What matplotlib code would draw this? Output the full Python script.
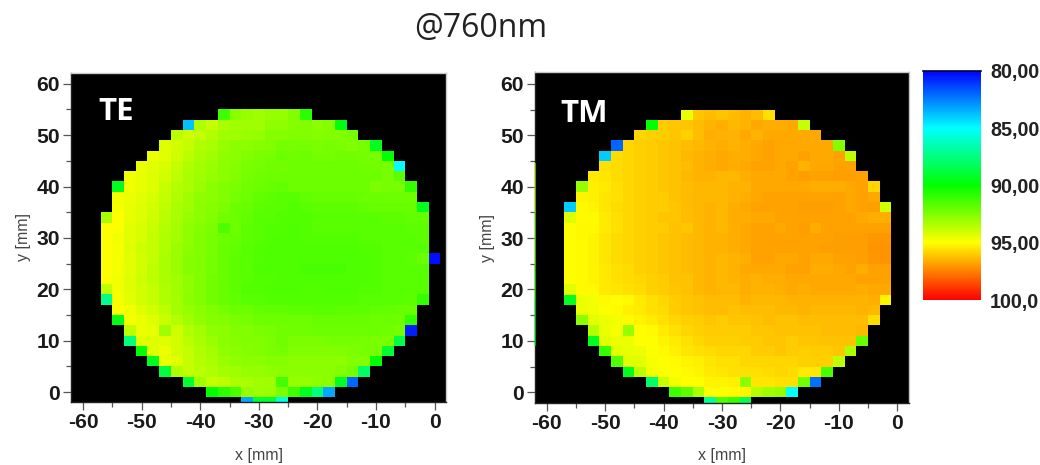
import numpy as np
import matplotlib
matplotlib.use("Agg")
import matplotlib.pyplot as plt
from matplotlib.colors import LinearSegmentedColormap
from matplotlib.ticker import MultipleLocator

plt.rcParams["axes.unicode_minus"] = False

title = "@760nm"
x_centers = list(range(-56, 2, 2))
y_centers = list(range(54, -4, -2))
scale_ticks = [80, 85, 90, 95, 100]
scale_labels = ["80,00", "85,00", "90,00", "95,00", "100,0"]

te_first = [10,7,6,5,4,3,2,1,1,1,0,0,0,0,0,0,0,0,0,1,1,2,2,3,4,5,7,9,12]
te_last = [17,20,21,23,24,25,25,26,26,27,27,27,27,27,28,27,27,27,27,26,26,26,25,24,23,22,21,19,15]
te_rows = [
[91.2,92.7,93,93.1,92.9,92.9,92.5,90.8],
[83.8,93.4,93.8,93.3,93.1,93.1,93.1,92.8,92.8,92.6,92.5,92.7,92.6,89.7],
[93.6,94,93.8,93.4,93.1,93.1,93,92.9,92.6,92.6,92.5,92.5,92.6,92.5,92.5,92.3],
[94.3,94.1,93.8,93.4,93.3,92.9,92.7,92.7,92.6,92.5,92.3,92.3,92.3,92.4,92.3,92.4,92.5,92.3,89.4],
[94.6,94.4,94,93.6,93.3,93.1,92.8,92.7,92.5,92.4,92.3,92.1,92.2,92.1,92.3,92.3,92.2,92.2,92.3,92.3,90],
[94.6,94.4,94.2,93.8,93.4,93.2,93,92.7,92.6,92.4,92.3,92.2,92.2,92.1,92.1,92.1,92.1,92.1,92.1,92.2,92.2,92.3,85],
[94.7,94.5,94.3,94.1,93.7,93.3,93.1,92.9,92.7,92.5,92.3,92.2,92.1,92.1,92.1,92.1,92.1,92.1,92.1,92.1,92.1,92.1,92.3,91.8],
[89.4,94.7,94.5,94.3,93.9,93.5,93.3,93,92.7,92.5,92.4,92.2,92.1,92,91.9,92.1,92.1,92.1,92.1,92.1,92.1,92.1,92.4,92.3,92.3,91],
[94.7,94.6,94.4,94.2,93.8,93.4,93.1,92.8,92.7,92.5,92.3,92.1,91.9,91.8,91.7,91.7,91.9,92,92,92,92,92.1,92.1,92.1,92.1,92.1],
[94.8,94.5,94.3,94.1,93.7,93.3,93.1,92.7,92.6,92.4,92.1,92,91.8,91.7,91.7,91.6,91.7,91.8,91.8,91.8,91.8,91.9,92,92,92,92,89.4],
[93.3,95,94.5,94.3,94,93.6,93.3,92.9,92.7,92.5,92.2,92.1,91.9,91.7,91.7,91.6,91.6,91.6,91.7,91.7,91.7,91.7,91.7,91.7,91.8,91.8,91.9,91.9],
[95,94.9,94.4,94.2,93.9,93.5,93.2,92.8,92.6,92.4,91.5,92.1,91.8,91.7,91.6,91.6,91.5,91.6,91.7,91.7,91.7,91.7,91.7,91.7,91.7,91.7,91.8,91.8],
[95,94.7,94.4,94.2,93.8,93.4,93.2,92.8,92.5,92.3,92.1,92,91.8,91.7,91.6,91.5,91.5,91.6,91.6,91.6,91.6,91.6,91.7,91.7,91.7,91.7,91.7,91.8],
[95,94.8,94.3,94,93.8,93.4,93,92.7,92.5,92.3,92,91.9,91.7,91.6,91.5,91.5,91.5,91.5,91.5,91.5,91.5,91.5,91.6,91.6,91.7,91.7,91.7,91.7],
[95,94.8,94.4,94.1,93.8,93.3,93,92.6,92.5,92.3,92,91.8,91.7,91.6,91.5,91.5,91.5,91.5,91.5,91.5,91.5,91.5,91.5,91.6,91.7,91.7,91.8,92.1,80.3],
[95,94.8,94.4,94.1,93.7,93.3,93,92.6,92.5,92.3,92,91.8,91.7,91.5,91.5,91.5,91.5,91.4,91.4,91.4,91.4,91.5,91.5,91.6,91.7,91.7,91.7,91.7],
[95,94.7,94.3,94,93.7,93.3,93.1,92.8,92.5,92.2,92,91.8,91.7,91.6,91.6,91.5,91.5,91.5,91.5,91.5,91.5,91.5,91.5,91.6,91.7,91.7,91.7,91.7],
[93.7,94.7,94.3,94.1,93.8,93.4,93.1,92.8,92.5,92.2,92,91.8,91.6,91.6,91.5,91.5,91.5,91.6,91.6,91.5,91.5,91.5,91.6,91.6,91.7,91.7,91.7,91.7],
[87.3,94.8,94.4,94.1,93.8,93.4,93.2,92.7,92.5,92.2,92,91.9,91.7,91.7,91.6,91.6,91.6,91.6,91.6,91.6,91.6,91.6,91.7,91.7,91.7,91.7,91.8,91],
[94.9,94.7,94.3,94.1,93.7,93.2,92.9,92.7,92.5,92.3,92.1,92.1,91.9,91.9,91.9,91.8,91.8,91.7,91.7,91.8,91.8,91.8,91.9,91.9,92,92],
[89.6,94.8,94.6,94.3,93.9,93.5,93.1,92.8,92.6,92.5,92.4,92.3,92.1,92.1,92.1,92.1,92.1,92,92,92,92,92,92.1,92.1,92.1,91],
[93.7,94.6,94.5,93.1,94,93.4,93.2,92.8,92.7,92.5,92.5,92.4,92.3,92.2,92.2,92.2,92.1,92.1,92.1,92.1,92.1,92.1,92.2,92.3,80.6],
[87.6,94.3,94.3,94.3,94.1,93.6,93.3,93,92.7,92.6,92.5,92.5,92.4,92.2,92.4,92.4,92.4,92.3,92.3,92.3,92.3,92.4,92.4,88.6],
[90,94.3,94.6,94.1,93.8,93.4,93.2,92.8,92.7,92.6,92.5,92.4,92.3,92.5,92.5,92.5,92.5,92.5,92.4,92.3,92.3,89],
[89.4,94.6,94.3,93.8,93.5,93.3,93,92.8,92.7,92.7,92.6,92.6,92.7,92.7,92.7,92.7,92.7,92.5,92.5,90],
[88.8,93.4,93.8,93.6,93.4,93.2,93.1,92.9,92.9,92.8,92.7,92.7,92.7,92.7,92.7,92.5,92.3,88],
[89,93.1,93.8,93.7,93.3,93.3,93.1,93.1,91.3,92.9,92.9,92.8,92.7,89.2,82],
[90,90.8,91.4,92.9,93.1,93,92.4,91.2,89.4,87.6,83.3],
[83.3,89,89,85.7],
]

tm_first = [10,7,6,4,3,3,2,1,1,0,0,0,0,0,0,0,0,0,0,1,1,2,2,3,4,5,7,9,12]
tm_last = [17,20,21,23,24,24,25,26,26,27,27,27,27,27,27,27,27,27,27,26,26,25,25,24,23,22,21,19,15]
tm_rows = [
[94.6,96.1,96.3,96.1,96.3,96.5,96.3,95.6],
[90,96,96.1,96.1,96.3,96.5,96.6,96.4,96.5,96.7,96.6,96.6,96.7,93.9],
[95.8,95.9,96,96.1,95.9,96.3,96.6,96.5,96.5,96.7,96.5,96.7,96.7,96.7,96.7,96.7],
[82,95.8,95.9,96,96.1,96.2,96.3,96.4,96.5,96.6,96.5,96.6,96.7,96.8,96.7,96.7,96.7,96.7,96.7,92.5],
[84,95.7,95.8,95.9,96,96.1,96.2,96.4,96.5,96.6,96.7,96.6,96.6,96.7,96.8,96.7,96.7,96.8,96.7,96.7,96.8,93.7],
[95.6,95.7,95.8,95.9,96,96.1,96.2,96.3,96.5,96.6,96.7,96.6,96.7,96.8,96.8,96.7,96.8,96.5,96.7,96.7,96.8,96.8],
[95.4,95.5,95.7,95.8,95.9,96,96.1,96.2,96.4,96.5,96.5,96.4,96.4,96.6,96.7,96.7,96.7,96.8,96.9,96.8,96.8,96.9,96.9,96.8],
[92.9,95.3,95.4,95.6,95.8,95.9,96,96.1,96.2,96.3,96.4,96.4,96.4,96.5,96.5,96.7,96.7,96.7,96.7,96.7,96.6,96.6,96.6,96.7,96.8,95.8],
[95.2,95.3,95.5,95.6,95.8,95.9,96,96,96.2,96.3,96.4,96.4,96.4,96.5,96.6,96.7,96.8,96.8,96.8,96.8,96.8,96.8,96.8,96.7,96.8,96.7],
[84,95.1,95.2,95.5,95.7,95.8,95.9,96,96,96.1,96.3,96.4,96.5,96.4,96.6,96.7,96.8,96.8,96.8,96.8,96.9,96.9,96.9,96.8,96.7,96.8,96.9,94.1],
[94.3,95.1,95.1,95.4,95.6,95.8,95.9,96,96.1,96.1,96.3,96.4,96.5,96.4,96.6,96.6,96.7,96.7,96.8,96.8,96.8,96.8,96.8,96.8,96.8,96.7,96.6,96.6],
[95,95.1,95.1,95.4,95.6,95.8,95.9,96,96,96.2,96.1,96.4,96.5,96.4,96.6,96.7,96.8,96.8,96.7,96.8,96.9,96.6,96.8,96.8,96.8,96.8,96.8,96.8],
[95,95.1,95.2,95.5,95.7,95.8,95.9,96,96.1,96.2,96.3,96.4,96.5,96.5,96.6,96.7,96.8,96.8,96.8,96.8,96.8,96.8,96.8,96.9,96.9,96.9,97,97],
[95,95.1,95.2,95.5,95.7,95.8,95.9,96,96.1,96.2,96.3,96.4,96.5,96.5,96.6,96.7,96.8,96.8,96.8,96.8,96.8,96.8,96.9,96.9,96.9,96.9,97.1,97.1],
[95,95.1,95.2,95.5,95.7,95.8,95.9,96,96.1,96.2,96.3,96.4,96.5,96.4,96.5,96.6,96.8,96.8,96.7,96.7,96.8,96.7,96.7,96.8,96.8,96.9,97,97.1],
[95,95.1,95.2,95.4,95.6,95.7,95.9,96,96.1,96.2,96.3,96.4,96.5,96.4,96.5,96.7,96.7,96.7,96.7,96.8,96.8,96.6,96.6,96.7,96.8,96.6,96.8,96.8],
[94.9,95.1,95.2,95.4,95.6,95.7,95.8,95.9,96,96.2,96.2,96.4,96.5,96.4,96.5,96.6,96.5,96.6,96.6,96.7,96.7,96.7,96.7,96.7,96.7,96.8,96.8,96.8],
[94.4,95.1,95.1,95.4,95.5,95.6,95.7,95.9,96,96.1,96.2,96.4,96.5,96.4,96.4,96.6,96.5,96.5,96.6,96.7,96.6,96.7,96.7,96.7,96.7,96.6,96.7,96.7],
[89.4,94.6,94.7,95.1,95,95.1,95.4,95.6,95.8,96,96.1,96.2,96.3,96.3,96.3,96.5,96.4,96.4,96.4,96.5,96.5,96.5,96.5,96.5,96.5,96.5,96.6,95.2],
[94.6,94.7,94.9,95.1,95.3,95.4,95.6,95.7,96,96.1,96.2,96.3,96.3,96.2,96.3,96.3,96.3,96.4,96.4,96.5,96.4,96.4,96.4,96.4,96.5,96.4],
[92.7,94.4,94.6,94.7,95.1,95.2,95.4,95.6,95.8,95.9,96,96.1,96,96.1,96.1,96.2,96.3,96.2,96.2,96.3,96.3,96.3,96.3,96.3,96.3,95.7],
[93.5,94.6,94.8,92.9,95,95.1,95.4,95.6,95.8,95.9,96,96,96,96,96.1,96.1,96.2,96.2,96.2,96.2,96.3,96.3,96.3,96.4],
[89.4,94.4,94.6,94.6,95,95,95.2,95.4,95.6,95.8,95.9,95.9,95.9,96,96,96.1,96.1,96,96.1,96.1,96.2,96.2,96.2,92],
[91,94.4,94.5,94.6,94.9,95.1,95.3,95.5,95.6,95.7,95.8,95.8,95.8,96,96,96.1,96,95.9,96,96,96.1,93.3],
[91.6,94.4,94.4,94.8,95,95.1,95.2,95.3,95.5,95.6,95.6,95.8,95.8,95.8,95.8,95.8,95.9,95.9,95.9,93.7],
[89.4,93.7,94.7,94.9,95,95.1,95.2,95.4,95.5,95.6,95.6,95.6,95.7,95.8,95.7,95.4,95.5,91.4],
[88,93.9,94.7,95,95,95.2,95.2,95.3,92.7,95.5,95.5,95.6,95.6,92.2,82.2],
[91.2,91.8,93.3,95,95,95.1,95.2,93.5,93.1,92.9,85],
[87,91.5,91,88.4],
]

# thin sliver of data along the left edge of the TM map
tm_edge_y = [44.5, 35, 25, 18, 9]
tm_edge_c = [93.5, 92.5, 91, 89, 86]


def to_grid(first, last, rows):
    grid = np.full((len(y_centers), len(x_centers)), np.nan)
    for i, (a, b, vals) in enumerate(zip(first, last, rows)):
        if b - a + 1 != len(vals):
            raise ValueError(f"row {i}: {b - a + 1} != {len(vals)}")
        grid[i, a:b + 1] = vals
    return grid


W, H = 1040, 465
fig = plt.figure(figsize=(W / 100, H / 100), dpi=100, facecolor="white")
cmap = LinearSegmentedColormap.from_list("rb", ["#0000ff", "#00ffff", "#00ff00", "#ffff00", "#ff0000"], N=512)
TICK_FONT = dict(family="Liberation Sans", weight="bold", size=15.2, color="#1a1a1a")


def box(l, t, r, b):
    return [l / W, 1 - b / H, (r - l) / W, (b - t) / H]


def panel(rect, grid, name, name_xy):
    ax = fig.add_axes(box(*rect), facecolor="black")
    xs = np.array(x_centers)
    ys = np.array(y_centers)
    im = ax.pcolormesh(xs, ys, np.ma.masked_invalid(grid), cmap=cmap, vmin=80, vmax=100,
                       shading="nearest", linewidth=0, rasterized=True)
    ax.set_xlim(-62, 2)
    ax.set_ylim(-2, 62.2)
    ax.xaxis.set_major_locator(MultipleLocator(10))
    ax.xaxis.set_minor_locator(MultipleLocator(5))
    ax.yaxis.set_major_locator(MultipleLocator(10))
    ax.yaxis.set_minor_locator(MultipleLocator(5))
    ax.tick_params(which="major", length=6, width=0.9, color="#555555", pad=2)
    ax.tick_params(which="minor", length=3.5, width=0.9, color="#555555")
    for lab in ax.get_xticklabels() + ax.get_yticklabels():
        lab.set(**TICK_FONT)
    for side in ("top", "right"):
        ax.spines[side].set_color("#c8c8c8")
    for side in ("left", "bottom"):
        ax.spines[side].set_color("#222222")
    for sp in ax.spines.values():
        sp.set_linewidth(1.0)
    ax.set_xlabel("x [mm]", family="Liberation Sans", size=11.5, color="#444444", labelpad=11)
    ax.set_ylabel("y [mm]", family="Liberation Sans", size=11.5, color="#444444", labelpad=4)
    fig.text(name_xy[0] / W, 1 - name_xy[1] / H, name, color="white", family="Open Sans",
             weight="bold", size=22.5, ha="center", va="center")
    return ax, im


te_grid = to_grid(te_first, te_last, te_rows)
tm_grid = to_grid(tm_first, tm_last, tm_rows)

ax_te, im_te = panel((71.3, 72.5, 446.3, 402.3), te_grid, "TE", (116, 112))
ax_tm, im_tm = panel((535, 72.5, 909, 402.5), tm_grid, "TM", (584, 114))

for y0, y1, c in zip(tm_edge_y[:-1], tm_edge_y[1:], tm_edge_c):
    ax_tm.plot([-62, -62], [y0, y1], color=cmap((c - 80) / 20), lw=1.1, alpha=0.7,
               clip_on=False, solid_capstyle="butt", zorder=5)

cax = fig.add_axes(box(923.3, 70.7, 981, 300))
cb = fig.colorbar(im_te, cax=cax)
cb.ax.invert_yaxis()
cb.set_ticks(scale_ticks, labels=scale_labels)
cb.ax.tick_params(length=0, pad=6.5)
for lab in cb.ax.get_yticklabels():
    lab.set(family="Liberation Sans", weight="bold", size=14.2, color="#222222")
cb.outline.set_visible(False)
cb.ax.axhline(80, color="#000030", lw=1.2, clip_on=False)

fig.text(481 / W, 1 - 29 / H, title, family="Open Sans", size=23, color="#222222",
         ha="center", va="center")

fig.savefig("out.png", dpi=100, facecolor="white")
